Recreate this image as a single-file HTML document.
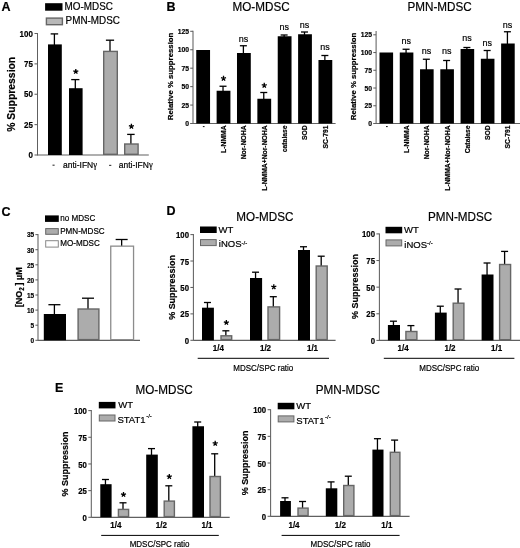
<!DOCTYPE html>
<html><head><meta charset="utf-8"><title>Figure</title>
<style>
html,body{margin:0;padding:0;background:#fff;}
body{width:520px;height:548px;overflow:hidden;}
svg{display:block;font-family:"Liberation Sans", sans-serif;filter:blur(0.3px);}
</style></head>
<body>
<svg width="520" height="548" viewBox="0 0 520 548">
<rect x="0" y="0" width="520" height="548" fill="#fff"/>
<text x="1.60" y="10.50" font-size="12.5" font-weight="bold" text-anchor="start" stroke="#000" stroke-width="0.2" fill="#000">A</text>
<rect x="45.10" y="3.20" width="17.40" height="7.50" fill="#000"/>
<text x="0.00" y="0.00" font-size="10.31" text-anchor="start" transform="translate(64.60 9.70) scale(0.96 1)" stroke="#000" stroke-width="0.2" fill="#000">MO-MDSC</text>
<rect x="46.40" y="18.10" width="16.00" height="6.60" fill="#b8b8b8" stroke="#666" stroke-width="1.4"/>
<text x="0.00" y="0.00" font-size="10.31" text-anchor="start" transform="translate(65.60 24.10) scale(0.96 1)" stroke="#000" stroke-width="0.2" fill="#000">PMN-MDSC</text>
<line x1="37.50" y1="33.00" x2="37.50" y2="155.50" stroke="#606060" stroke-width="1.05"/>
<line x1="34.50" y1="155.00" x2="37.50" y2="155.00" stroke="#606060" stroke-width="1.05"/>
<text x="0.00" y="0.00" font-size="9.3" font-weight="bold" text-anchor="end" transform="translate(32.90 158.13) scale(0.86 1)" stroke="#000" stroke-width="0.2" fill="#000">0</text>
<line x1="34.50" y1="124.62" x2="37.50" y2="124.62" stroke="#606060" stroke-width="1.05"/>
<text x="0.00" y="0.00" font-size="9.3" font-weight="bold" text-anchor="end" transform="translate(32.90 127.76) scale(0.86 1)" stroke="#000" stroke-width="0.2" fill="#000">25</text>
<line x1="34.50" y1="94.25" x2="37.50" y2="94.25" stroke="#606060" stroke-width="1.05"/>
<text x="0.00" y="0.00" font-size="9.3" font-weight="bold" text-anchor="end" transform="translate(32.90 97.38) scale(0.86 1)" stroke="#000" stroke-width="0.2" fill="#000">50</text>
<line x1="34.50" y1="63.88" x2="37.50" y2="63.88" stroke="#606060" stroke-width="1.05"/>
<text x="0.00" y="0.00" font-size="9.3" font-weight="bold" text-anchor="end" transform="translate(32.90 67.01) scale(0.86 1)" stroke="#000" stroke-width="0.2" fill="#000">75</text>
<line x1="34.50" y1="33.50" x2="37.50" y2="33.50" stroke="#606060" stroke-width="1.05"/>
<text x="0.00" y="0.00" font-size="9.3" font-weight="bold" text-anchor="end" transform="translate(32.90 36.63) scale(0.86 1)" stroke="#000" stroke-width="0.2" fill="#000">100</text>
<line x1="37.50" y1="155.00" x2="148.80" y2="155.00" stroke="#606060" stroke-width="1.2"/>
<line x1="54.40" y1="33.90" x2="54.40" y2="45.40" stroke="#000" stroke-width="1.3"/>
<line x1="50.65" y1="33.90" x2="58.15" y2="33.90" stroke="#000" stroke-width="1.3"/>
<rect x="48.00" y="44.40" width="13.80" height="110.60" fill="#000"/>
<line x1="75.30" y1="79.60" x2="75.30" y2="89.20" stroke="#000" stroke-width="1.3"/>
<line x1="71.20" y1="79.60" x2="79.40" y2="79.60" stroke="#000" stroke-width="1.3"/>
<rect x="69.00" y="88.20" width="13.60" height="66.80" fill="#000"/>
<path d="M75.80 71.60L75.80 68.95M75.80 71.60L78.32 70.78M75.80 71.60L77.36 73.74M75.80 71.60L74.24 73.74M75.80 71.60L73.28 70.78" stroke="#000" stroke-width="1.3" fill="none"/>
<line x1="110.00" y1="40.20" x2="110.00" y2="51.70" stroke="#000" stroke-width="1.3"/>
<line x1="105.90" y1="40.20" x2="114.10" y2="40.20" stroke="#000" stroke-width="1.3"/>
<rect x="103.70" y="51.40" width="13.60" height="102.90" fill="#acacac" stroke="#666" stroke-width="1.4"/>
<line x1="130.90" y1="134.40" x2="130.90" y2="144.30" stroke="#000" stroke-width="1.3"/>
<line x1="127.15" y1="134.40" x2="134.65" y2="134.40" stroke="#000" stroke-width="1.3"/>
<rect x="124.70" y="144.00" width="13.40" height="10.30" fill="#acacac" stroke="#666" stroke-width="1.4"/>
<path d="M131.40 126.40L131.40 123.75M131.40 126.40L133.92 125.58M131.40 126.40L132.96 128.54M131.40 126.40L129.84 128.54M131.40 126.40L128.88 125.58" stroke="#000" stroke-width="1.3" fill="none"/>
<rect x="52.50" y="164.60" width="2.10" height="1.20" fill="#444"/>
<text x="0.00" y="0.00" font-size="9.34" text-anchor="middle" transform="translate(80.00 168.30) scale(0.91 1)" stroke="#000" stroke-width="0.2" fill="#000">anti-IFN<tspan font-family="Liberation Serif">&#947;</tspan></text>
<rect x="109.10" y="164.80" width="2.20" height="1.20" fill="#444"/>
<text x="0.00" y="0.00" font-size="9.34" text-anchor="middle" transform="translate(135.70 168.30) scale(0.91 1)" stroke="#000" stroke-width="0.2" fill="#000">anti-IFN<tspan font-family="Liberation Serif">&#947;</tspan></text>
<text x="0.00" y="0.00" font-size="11.43" font-weight="bold" text-anchor="middle" transform="translate(14.58 94.30) rotate(-90) scale(0.91 1)" stroke="#000" stroke-width="0.2" fill="#000">% Suppression</text>
<text x="166.40" y="10.50" font-size="12.5" font-weight="bold" text-anchor="start" stroke="#000" stroke-width="0.2" fill="#000">B</text>
<text x="0.00" y="0.00" font-size="12.86" text-anchor="start" transform="translate(232.50 10.60) scale(0.91 1)" stroke="#000" stroke-width="0.2" fill="#000">MO-MDSC</text>
<line x1="193.00" y1="30.80" x2="193.00" y2="124.00" stroke="#606060" stroke-width="1.05"/>
<line x1="190.20" y1="123.50" x2="193.00" y2="123.50" stroke="#606060" stroke-width="1.05"/>
<text x="0.00" y="0.00" font-size="7.47" font-weight="bold" text-anchor="end" transform="translate(189.00 126.18) scale(0.91 1)" stroke="#000" stroke-width="0.2" fill="#000">0</text>
<line x1="190.20" y1="105.06" x2="193.00" y2="105.06" stroke="#606060" stroke-width="1.05"/>
<text x="0.00" y="0.00" font-size="7.47" font-weight="bold" text-anchor="end" transform="translate(189.00 107.74) scale(0.91 1)" stroke="#000" stroke-width="0.2" fill="#000">25</text>
<line x1="190.20" y1="86.62" x2="193.00" y2="86.62" stroke="#606060" stroke-width="1.05"/>
<text x="0.00" y="0.00" font-size="7.47" font-weight="bold" text-anchor="end" transform="translate(189.00 89.30) scale(0.91 1)" stroke="#000" stroke-width="0.2" fill="#000">50</text>
<line x1="190.20" y1="68.18" x2="193.00" y2="68.18" stroke="#606060" stroke-width="1.05"/>
<text x="0.00" y="0.00" font-size="7.47" font-weight="bold" text-anchor="end" transform="translate(189.00 70.86) scale(0.91 1)" stroke="#000" stroke-width="0.2" fill="#000">75</text>
<line x1="190.20" y1="49.74" x2="193.00" y2="49.74" stroke="#606060" stroke-width="1.05"/>
<text x="0.00" y="0.00" font-size="7.47" font-weight="bold" text-anchor="end" transform="translate(189.00 52.42) scale(0.91 1)" stroke="#000" stroke-width="0.2" fill="#000">100</text>
<line x1="190.20" y1="31.30" x2="193.00" y2="31.30" stroke="#606060" stroke-width="1.05"/>
<text x="0.00" y="0.00" font-size="7.47" font-weight="bold" text-anchor="end" transform="translate(189.00 33.98) scale(0.91 1)" stroke="#000" stroke-width="0.2" fill="#000">125</text>
<line x1="190.50" y1="123.50" x2="335.60" y2="123.50" stroke="#606060" stroke-width="1.2"/>
<rect x="196.25" y="50.00" width="13.80" height="73.50" fill="#000"/>
<line x1="223.02" y1="86.25" x2="223.02" y2="91.75" stroke="#000" stroke-width="1.3"/>
<line x1="219.52" y1="86.25" x2="226.52" y2="86.25" stroke="#000" stroke-width="1.3"/>
<rect x="216.62" y="90.75" width="13.80" height="32.75" fill="#000"/>
<path d="M223.52 78.50L223.52 75.85M223.52 78.50L226.04 77.68M223.52 78.50L225.08 80.64M223.52 78.50L221.96 80.64M223.52 78.50L221.00 77.68" stroke="#000" stroke-width="1.3" fill="none"/>
<line x1="243.39" y1="45.75" x2="243.39" y2="54.00" stroke="#000" stroke-width="1.3"/>
<line x1="239.89" y1="45.75" x2="246.89" y2="45.75" stroke="#000" stroke-width="1.3"/>
<rect x="236.99" y="53.00" width="13.80" height="70.50" fill="#000"/>
<text x="0.00" y="0.00" font-size="9.89" text-anchor="middle" transform="translate(243.49 41.80) scale(0.91 1)" stroke="#000" stroke-width="0.2" fill="#000">ns</text>
<line x1="263.76" y1="92.50" x2="263.76" y2="99.75" stroke="#000" stroke-width="1.3"/>
<line x1="260.26" y1="92.50" x2="267.26" y2="92.50" stroke="#000" stroke-width="1.3"/>
<rect x="257.36" y="98.75" width="13.80" height="24.75" fill="#000"/>
<path d="M264.26 85.50L264.26 82.85M264.26 85.50L266.78 84.68M264.26 85.50L265.82 87.64M264.26 85.50L262.70 87.64M264.26 85.50L261.74 84.68" stroke="#000" stroke-width="1.3" fill="none"/>
<line x1="284.13" y1="35.00" x2="284.13" y2="37.25" stroke="#000" stroke-width="1.3"/>
<line x1="280.63" y1="35.00" x2="287.63" y2="35.00" stroke="#000" stroke-width="1.3"/>
<rect x="277.73" y="36.25" width="13.80" height="87.25" fill="#000"/>
<text x="0.00" y="0.00" font-size="9.89" text-anchor="middle" transform="translate(284.23 29.80) scale(0.91 1)" stroke="#000" stroke-width="0.2" fill="#000">ns</text>
<line x1="304.50" y1="32.00" x2="304.50" y2="35.25" stroke="#000" stroke-width="1.3"/>
<line x1="301.00" y1="32.00" x2="308.00" y2="32.00" stroke="#000" stroke-width="1.3"/>
<rect x="298.10" y="34.25" width="13.80" height="89.25" fill="#000"/>
<text x="0.00" y="0.00" font-size="9.89" text-anchor="middle" transform="translate(304.60 27.50) scale(0.91 1)" stroke="#000" stroke-width="0.2" fill="#000">ns</text>
<line x1="324.87" y1="55.50" x2="324.87" y2="61.00" stroke="#000" stroke-width="1.3"/>
<line x1="321.37" y1="55.50" x2="328.37" y2="55.50" stroke="#000" stroke-width="1.3"/>
<rect x="318.47" y="60.00" width="13.80" height="63.50" fill="#000"/>
<text x="0.00" y="0.00" font-size="9.89" text-anchor="middle" transform="translate(324.97 50.00) scale(0.91 1)" stroke="#000" stroke-width="0.2" fill="#000">ns</text>
<text x="173.38" y="76.40" font-size="7.8" font-weight="bold" text-anchor="middle" transform="rotate(-90 173.38 76.40)" stroke="#000" stroke-width="0.2" fill="#000">Relative % suppression</text>
<rect x="202.85" y="126.00" width="1.70" height="1.10" fill="#222"/>
<text x="0.00" y="0.00" font-size="7.47" font-weight="bold" text-anchor="end" transform="translate(225.97 125.40) rotate(-90) scale(0.91 1)" stroke="#000" stroke-width="0.2" fill="#000">L-NMMA</text>
<text x="0.00" y="0.00" font-size="7.47" font-weight="bold" text-anchor="end" transform="translate(246.34 125.40) rotate(-90) scale(0.91 1)" stroke="#000" stroke-width="0.2" fill="#000">Nor-NOHA</text>
<text x="0.00" y="0.00" font-size="7.47" font-weight="bold" text-anchor="end" transform="translate(266.71 125.40) rotate(-90) scale(0.91 1)" stroke="#000" stroke-width="0.2" fill="#000">L-NMMA+Nor-NOHA</text>
<text x="0.00" y="0.00" font-size="7.47" font-weight="bold" text-anchor="end" transform="translate(287.08 125.40) rotate(-90) scale(0.91 1)" stroke="#000" stroke-width="0.2" fill="#000">catalase</text>
<text x="0.00" y="0.00" font-size="7.47" font-weight="bold" text-anchor="end" transform="translate(307.45 125.40) rotate(-90) scale(0.91 1)" stroke="#000" stroke-width="0.2" fill="#000">SOD</text>
<text x="0.00" y="0.00" font-size="7.47" font-weight="bold" text-anchor="end" transform="translate(327.82 125.40) rotate(-90) scale(0.91 1)" stroke="#000" stroke-width="0.2" fill="#000">SC-791</text>
<text x="0.00" y="0.00" font-size="12.86" text-anchor="start" transform="translate(407.50 10.60) scale(0.91 1)" stroke="#000" stroke-width="0.2" fill="#000">PMN-MDSC</text>
<line x1="376.10" y1="31.00" x2="376.10" y2="124.00" stroke="#606060" stroke-width="1.05"/>
<line x1="373.30" y1="123.50" x2="376.10" y2="123.50" stroke="#606060" stroke-width="1.05"/>
<text x="0.00" y="0.00" font-size="7.47" font-weight="bold" text-anchor="end" transform="translate(372.10 126.18) scale(0.91 1)" stroke="#000" stroke-width="0.2" fill="#000">0</text>
<line x1="373.30" y1="105.76" x2="376.10" y2="105.76" stroke="#606060" stroke-width="1.05"/>
<text x="0.00" y="0.00" font-size="7.47" font-weight="bold" text-anchor="end" transform="translate(372.10 108.44) scale(0.91 1)" stroke="#000" stroke-width="0.2" fill="#000">25</text>
<line x1="373.30" y1="88.02" x2="376.10" y2="88.02" stroke="#606060" stroke-width="1.05"/>
<text x="0.00" y="0.00" font-size="7.47" font-weight="bold" text-anchor="end" transform="translate(372.10 90.70) scale(0.91 1)" stroke="#000" stroke-width="0.2" fill="#000">50</text>
<line x1="373.30" y1="70.28" x2="376.10" y2="70.28" stroke="#606060" stroke-width="1.05"/>
<text x="0.00" y="0.00" font-size="7.47" font-weight="bold" text-anchor="end" transform="translate(372.10 72.96) scale(0.91 1)" stroke="#000" stroke-width="0.2" fill="#000">75</text>
<line x1="373.30" y1="52.54" x2="376.10" y2="52.54" stroke="#606060" stroke-width="1.05"/>
<text x="0.00" y="0.00" font-size="7.47" font-weight="bold" text-anchor="end" transform="translate(372.10 55.22) scale(0.91 1)" stroke="#000" stroke-width="0.2" fill="#000">100</text>
<line x1="373.30" y1="34.80" x2="376.10" y2="34.80" stroke="#606060" stroke-width="1.05"/>
<text x="0.00" y="0.00" font-size="7.47" font-weight="bold" text-anchor="end" transform="translate(372.10 37.48) scale(0.91 1)" stroke="#000" stroke-width="0.2" fill="#000">125</text>
<line x1="373.60" y1="123.50" x2="520.00" y2="123.50" stroke="#606060" stroke-width="1.2"/>
<rect x="379.50" y="52.50" width="13.60" height="71.00" fill="#000"/>
<line x1="406.07" y1="49.25" x2="406.07" y2="53.50" stroke="#000" stroke-width="1.3"/>
<line x1="402.57" y1="49.25" x2="409.57" y2="49.25" stroke="#000" stroke-width="1.3"/>
<rect x="399.77" y="52.50" width="13.60" height="71.00" fill="#000"/>
<text x="0.00" y="0.00" font-size="9.89" text-anchor="middle" transform="translate(406.17 44.00) scale(0.91 1)" stroke="#000" stroke-width="0.2" fill="#000">ns</text>
<line x1="426.34" y1="59.25" x2="426.34" y2="70.25" stroke="#000" stroke-width="1.3"/>
<line x1="422.84" y1="59.25" x2="429.84" y2="59.25" stroke="#000" stroke-width="1.3"/>
<rect x="420.04" y="69.25" width="13.60" height="54.25" fill="#000"/>
<text x="0.00" y="0.00" font-size="9.89" text-anchor="middle" transform="translate(426.44 54.00) scale(0.91 1)" stroke="#000" stroke-width="0.2" fill="#000">ns</text>
<line x1="446.61" y1="60.50" x2="446.61" y2="70.25" stroke="#000" stroke-width="1.3"/>
<line x1="443.11" y1="60.50" x2="450.11" y2="60.50" stroke="#000" stroke-width="1.3"/>
<rect x="440.31" y="69.25" width="13.60" height="54.25" fill="#000"/>
<text x="0.00" y="0.00" font-size="9.89" text-anchor="middle" transform="translate(446.71 54.00) scale(0.91 1)" stroke="#000" stroke-width="0.2" fill="#000">ns</text>
<line x1="466.88" y1="47.50" x2="466.88" y2="50.00" stroke="#000" stroke-width="1.3"/>
<line x1="463.38" y1="47.50" x2="470.38" y2="47.50" stroke="#000" stroke-width="1.3"/>
<rect x="460.58" y="49.00" width="13.60" height="74.50" fill="#000"/>
<text x="0.00" y="0.00" font-size="9.89" text-anchor="middle" transform="translate(466.98 40.50) scale(0.91 1)" stroke="#000" stroke-width="0.2" fill="#000">ns</text>
<line x1="487.15" y1="50.50" x2="487.15" y2="59.75" stroke="#000" stroke-width="1.3"/>
<line x1="483.65" y1="50.50" x2="490.65" y2="50.50" stroke="#000" stroke-width="1.3"/>
<rect x="480.85" y="58.75" width="13.60" height="64.75" fill="#000"/>
<text x="0.00" y="0.00" font-size="9.89" text-anchor="middle" transform="translate(487.25 45.50) scale(0.91 1)" stroke="#000" stroke-width="0.2" fill="#000">ns</text>
<line x1="507.42" y1="31.75" x2="507.42" y2="44.50" stroke="#000" stroke-width="1.3"/>
<line x1="503.92" y1="31.75" x2="510.92" y2="31.75" stroke="#000" stroke-width="1.3"/>
<rect x="501.12" y="43.50" width="13.60" height="80.00" fill="#000"/>
<text x="0.00" y="0.00" font-size="9.89" text-anchor="middle" transform="translate(507.52 27.50) scale(0.91 1)" stroke="#000" stroke-width="0.2" fill="#000">ns</text>
<text x="356.18" y="76.40" font-size="7.8" font-weight="bold" text-anchor="middle" transform="rotate(-90 356.18 76.40)" stroke="#000" stroke-width="0.2" fill="#000">Relative % suppression</text>
<rect x="386.00" y="126.00" width="1.70" height="1.10" fill="#222"/>
<text x="0.00" y="0.00" font-size="7.47" font-weight="bold" text-anchor="end" transform="translate(409.02 125.40) rotate(-90) scale(0.91 1)" stroke="#000" stroke-width="0.2" fill="#000">L-NMMA</text>
<text x="0.00" y="0.00" font-size="7.47" font-weight="bold" text-anchor="end" transform="translate(429.29 125.40) rotate(-90) scale(0.91 1)" stroke="#000" stroke-width="0.2" fill="#000">Nor-NOHA</text>
<text x="0.00" y="0.00" font-size="7.47" font-weight="bold" text-anchor="end" transform="translate(449.56 125.40) rotate(-90) scale(0.91 1)" stroke="#000" stroke-width="0.2" fill="#000">L-NMMA+Nor-NOHA</text>
<text x="0.00" y="0.00" font-size="7.47" font-weight="bold" text-anchor="end" transform="translate(469.83 125.40) rotate(-90) scale(0.91 1)" stroke="#000" stroke-width="0.2" fill="#000">Catalase</text>
<text x="0.00" y="0.00" font-size="7.47" font-weight="bold" text-anchor="end" transform="translate(490.10 125.40) rotate(-90) scale(0.91 1)" stroke="#000" stroke-width="0.2" fill="#000">SOD</text>
<text x="0.00" y="0.00" font-size="7.47" font-weight="bold" text-anchor="end" transform="translate(510.37 125.40) rotate(-90) scale(0.91 1)" stroke="#000" stroke-width="0.2" fill="#000">SC-791</text>
<text x="1.50" y="216.20" font-size="12.5" font-weight="bold" text-anchor="start" stroke="#000" stroke-width="0.2" fill="#000">C</text>
<rect x="45.00" y="215.40" width="13.80" height="6.50" fill="#000"/>
<text x="0.00" y="0.00" font-size="8.9" text-anchor="start" transform="translate(60.20 221.30) scale(0.91 1)" stroke="#000" stroke-width="0.2" fill="#000">no MDSC</text>
<rect x="45.70" y="228.60" width="12.60" height="5.70" fill="#acacac" stroke="#666" stroke-width="1.0"/>
<text x="0.00" y="0.00" font-size="8.9" text-anchor="start" transform="translate(60.20 233.90) scale(0.91 1)" stroke="#000" stroke-width="0.2" fill="#000">PMN-MDSC</text>
<rect x="45.70" y="240.70" width="12.60" height="6.40" fill="#fff" stroke="#888" stroke-width="1.0"/>
<text x="0.00" y="0.00" font-size="8.9" text-anchor="start" transform="translate(60.20 246.40) scale(0.91 1)" stroke="#000" stroke-width="0.2" fill="#000">MO-MDSC</text>
<line x1="38.00" y1="234.10" x2="38.00" y2="340.80" stroke="#606060" stroke-width="1.05"/>
<line x1="35.40" y1="340.30" x2="38.00" y2="340.30" stroke="#606060" stroke-width="1.05"/>
<text x="0.00" y="0.00" font-size="7.93" font-weight="bold" text-anchor="end" transform="translate(34.20 343.14) scale(0.82 1)" stroke="#000" stroke-width="0.2" fill="#000">0</text>
<line x1="35.40" y1="325.20" x2="38.00" y2="325.20" stroke="#606060" stroke-width="1.05"/>
<text x="0.00" y="0.00" font-size="7.93" font-weight="bold" text-anchor="end" transform="translate(34.20 328.04) scale(0.82 1)" stroke="#000" stroke-width="0.2" fill="#000">5</text>
<line x1="35.40" y1="310.10" x2="38.00" y2="310.10" stroke="#606060" stroke-width="1.05"/>
<text x="0.00" y="0.00" font-size="7.93" font-weight="bold" text-anchor="end" transform="translate(34.20 312.94) scale(0.82 1)" stroke="#000" stroke-width="0.2" fill="#000">10</text>
<line x1="35.40" y1="295.00" x2="38.00" y2="295.00" stroke="#606060" stroke-width="1.05"/>
<text x="0.00" y="0.00" font-size="7.93" font-weight="bold" text-anchor="end" transform="translate(34.20 297.84) scale(0.82 1)" stroke="#000" stroke-width="0.2" fill="#000">15</text>
<line x1="35.40" y1="279.90" x2="38.00" y2="279.90" stroke="#606060" stroke-width="1.05"/>
<text x="0.00" y="0.00" font-size="7.93" font-weight="bold" text-anchor="end" transform="translate(34.20 282.74) scale(0.82 1)" stroke="#000" stroke-width="0.2" fill="#000">20</text>
<line x1="35.40" y1="264.80" x2="38.00" y2="264.80" stroke="#606060" stroke-width="1.05"/>
<text x="0.00" y="0.00" font-size="7.93" font-weight="bold" text-anchor="end" transform="translate(34.20 267.64) scale(0.82 1)" stroke="#000" stroke-width="0.2" fill="#000">25</text>
<line x1="35.40" y1="249.70" x2="38.00" y2="249.70" stroke="#606060" stroke-width="1.05"/>
<text x="0.00" y="0.00" font-size="7.93" font-weight="bold" text-anchor="end" transform="translate(34.20 252.54) scale(0.82 1)" stroke="#000" stroke-width="0.2" fill="#000">30</text>
<line x1="35.40" y1="234.60" x2="38.00" y2="234.60" stroke="#606060" stroke-width="1.05"/>
<text x="0.00" y="0.00" font-size="7.93" font-weight="bold" text-anchor="end" transform="translate(34.20 237.44) scale(0.82 1)" stroke="#000" stroke-width="0.2" fill="#000">35</text>
<line x1="38.00" y1="340.30" x2="140.00" y2="340.30" stroke="#606060" stroke-width="1.2"/>
<line x1="54.40" y1="304.70" x2="54.40" y2="315.00" stroke="#000" stroke-width="1.3"/>
<line x1="48.40" y1="304.70" x2="60.40" y2="304.70" stroke="#000" stroke-width="1.3"/>
<rect x="43.80" y="314.00" width="22.20" height="26.30" fill="#000"/>
<line x1="88.00" y1="298.20" x2="88.00" y2="309.30" stroke="#000" stroke-width="1.3"/>
<line x1="82.00" y1="298.20" x2="94.00" y2="298.20" stroke="#000" stroke-width="1.3"/>
<rect x="78.10" y="309.00" width="20.80" height="30.60" fill="#acacac" stroke="#666" stroke-width="1.4"/>
<line x1="121.65" y1="239.50" x2="121.65" y2="246.50" stroke="#000" stroke-width="1.3"/>
<line x1="115.65" y1="239.50" x2="127.65" y2="239.50" stroke="#000" stroke-width="1.3"/>
<rect x="110.75" y="246.15" width="22.80" height="93.50" fill="#fff" stroke="#8c8c8c" stroke-width="1.3"/>
<text x="22.10" y="287.20" font-size="9.0" font-weight="bold" text-anchor="middle" transform="rotate(-90 22.10 287.20)" stroke="#000" stroke-width="0.2" fill="#000">[NO<tspan font-size="6.3" dy="1.6">2</tspan><tspan dy="-1.6">&#8201;] &#181;M</tspan></text>
<text x="166.50" y="214.70" font-size="12.5" font-weight="bold" text-anchor="start" stroke="#000" stroke-width="0.2" fill="#000">D</text>
<line x1="193.40" y1="234.10" x2="193.40" y2="340.80" stroke="#606060" stroke-width="1.05"/>
<line x1="190.40" y1="340.30" x2="193.40" y2="340.30" stroke="#606060" stroke-width="1.05"/>
<text x="0.00" y="0.00" font-size="8.57" font-weight="bold" text-anchor="end" transform="translate(189.00 343.87) scale(0.91 1)" stroke="#000" stroke-width="0.2" fill="#000">0</text>
<line x1="190.40" y1="313.88" x2="193.40" y2="313.88" stroke="#606060" stroke-width="1.05"/>
<text x="0.00" y="0.00" font-size="8.57" font-weight="bold" text-anchor="end" transform="translate(189.00 317.44) scale(0.91 1)" stroke="#000" stroke-width="0.2" fill="#000">25</text>
<line x1="190.40" y1="287.45" x2="193.40" y2="287.45" stroke="#606060" stroke-width="1.05"/>
<text x="0.00" y="0.00" font-size="8.57" font-weight="bold" text-anchor="end" transform="translate(189.00 291.02) scale(0.91 1)" stroke="#000" stroke-width="0.2" fill="#000">50</text>
<line x1="190.40" y1="261.02" x2="193.40" y2="261.02" stroke="#606060" stroke-width="1.05"/>
<text x="0.00" y="0.00" font-size="8.57" font-weight="bold" text-anchor="end" transform="translate(189.00 264.59) scale(0.91 1)" stroke="#000" stroke-width="0.2" fill="#000">75</text>
<line x1="190.40" y1="234.60" x2="193.40" y2="234.60" stroke="#606060" stroke-width="1.05"/>
<text x="0.00" y="0.00" font-size="8.57" font-weight="bold" text-anchor="end" transform="translate(189.00 238.17) scale(0.91 1)" stroke="#000" stroke-width="0.2" fill="#000">100</text>
<line x1="193.40" y1="340.30" x2="335.60" y2="340.30" stroke="#606060" stroke-width="1.2"/>
<line x1="207.45" y1="302.50" x2="207.45" y2="308.70" stroke="#000" stroke-width="1.3"/>
<line x1="203.95" y1="302.50" x2="210.95" y2="302.50" stroke="#000" stroke-width="1.3"/>
<rect x="202.00" y="307.70" width="11.90" height="32.60" fill="#000"/>
<line x1="225.85" y1="330.80" x2="225.85" y2="336.10" stroke="#000" stroke-width="1.3"/>
<line x1="222.35" y1="330.80" x2="229.35" y2="330.80" stroke="#000" stroke-width="1.3"/>
<rect x="221.00" y="335.80" width="10.70" height="3.80" fill="#acacac" stroke="#666" stroke-width="1.4"/>
<path d="M226.35 322.60L226.35 319.95M226.35 322.60L228.87 321.78M226.35 322.60L227.91 324.74M226.35 322.60L224.79 324.74M226.35 322.60L223.83 321.78" stroke="#000" stroke-width="1.3" fill="none"/>
<line x1="255.55" y1="272.20" x2="255.55" y2="279.00" stroke="#000" stroke-width="1.3"/>
<line x1="252.05" y1="272.20" x2="259.05" y2="272.20" stroke="#000" stroke-width="1.3"/>
<rect x="250.00" y="278.00" width="12.10" height="62.30" fill="#000"/>
<line x1="273.30" y1="296.70" x2="273.30" y2="307.20" stroke="#000" stroke-width="1.3"/>
<line x1="269.80" y1="296.70" x2="276.80" y2="296.70" stroke="#000" stroke-width="1.3"/>
<rect x="268.00" y="306.90" width="11.60" height="32.70" fill="#acacac" stroke="#666" stroke-width="1.4"/>
<path d="M273.80 287.00L273.80 284.35M273.80 287.00L276.32 286.18M273.80 287.00L275.36 289.14M273.80 287.00L272.24 289.14M273.80 287.00L271.28 286.18" stroke="#000" stroke-width="1.3" fill="none"/>
<line x1="303.50" y1="246.75" x2="303.50" y2="251.00" stroke="#000" stroke-width="1.3"/>
<line x1="300.00" y1="246.75" x2="307.00" y2="246.75" stroke="#000" stroke-width="1.3"/>
<rect x="298.00" y="250.00" width="12.00" height="90.30" fill="#000"/>
<line x1="321.20" y1="256.20" x2="321.20" y2="266.30" stroke="#000" stroke-width="1.3"/>
<line x1="317.70" y1="256.20" x2="324.70" y2="256.20" stroke="#000" stroke-width="1.3"/>
<rect x="316.20" y="266.00" width="11.00" height="73.60" fill="#acacac" stroke="#666" stroke-width="1.4"/>
<text x="0.00" y="0.00" font-size="8.79" font-weight="bold" text-anchor="middle" transform="translate(218.30 351.20) scale(0.91 1)" stroke="#000" stroke-width="0.2" fill="#000">1/4</text>
<text x="0.00" y="0.00" font-size="8.79" font-weight="bold" text-anchor="middle" transform="translate(265.50 351.20) scale(0.91 1)" stroke="#000" stroke-width="0.2" fill="#000">1/2</text>
<text x="0.00" y="0.00" font-size="8.79" font-weight="bold" text-anchor="middle" transform="translate(312.50 351.20) scale(0.91 1)" stroke="#000" stroke-width="0.2" fill="#000">1/1</text>
<line x1="197.70" y1="358.30" x2="329.00" y2="358.30" stroke="#000" stroke-width="1.0"/>
<text x="0.00" y="0.00" font-size="8.79" text-anchor="middle" transform="translate(263.30 371.00) scale(0.91 1)" stroke="#000" stroke-width="0.2" fill="#000">MDSC/SPC ratio</text>
<text x="0.00" y="0.00" font-size="9.89" font-weight="bold" text-anchor="middle" transform="translate(174.78 287.40) rotate(-90) scale(0.91 1)" stroke="#000" stroke-width="0.2" fill="#000">% Suppression</text>
<text x="0.00" y="0.00" font-size="12.86" text-anchor="start" transform="translate(236.30 220.80) scale(0.91 1)" stroke="#000" stroke-width="0.2" fill="#000">MO-MDSC</text>
<rect x="200.00" y="226.50" width="16.70" height="6.50" fill="#000"/>
<text x="218.60" y="232.70" font-size="9.5" text-anchor="start" stroke="#000" stroke-width="0.2" fill="#000">WT</text>
<rect x="200.50" y="239.60" width="15.70" height="6.00" fill="#acacac" stroke="#666" stroke-width="1.0"/>
<text x="218.80" y="247.20" font-size="9.5" text-anchor="start" stroke="#000" stroke-width="0.2" fill="#000">iNOS<tspan font-size="6" dy="-2.5">-/-</tspan></text>
<line x1="379.40" y1="233.40" x2="379.40" y2="340.90" stroke="#606060" stroke-width="1.05"/>
<line x1="376.40" y1="340.40" x2="379.40" y2="340.40" stroke="#606060" stroke-width="1.05"/>
<text x="0.00" y="0.00" font-size="8.57" font-weight="bold" text-anchor="end" transform="translate(375.00 343.97) scale(0.91 1)" stroke="#000" stroke-width="0.2" fill="#000">0</text>
<line x1="376.40" y1="313.77" x2="379.40" y2="313.77" stroke="#606060" stroke-width="1.05"/>
<text x="0.00" y="0.00" font-size="8.57" font-weight="bold" text-anchor="end" transform="translate(375.00 317.34) scale(0.91 1)" stroke="#000" stroke-width="0.2" fill="#000">25</text>
<line x1="376.40" y1="287.15" x2="379.40" y2="287.15" stroke="#606060" stroke-width="1.05"/>
<text x="0.00" y="0.00" font-size="8.57" font-weight="bold" text-anchor="end" transform="translate(375.00 290.72) scale(0.91 1)" stroke="#000" stroke-width="0.2" fill="#000">50</text>
<line x1="376.40" y1="260.52" x2="379.40" y2="260.52" stroke="#606060" stroke-width="1.05"/>
<text x="0.00" y="0.00" font-size="8.57" font-weight="bold" text-anchor="end" transform="translate(375.00 264.09) scale(0.91 1)" stroke="#000" stroke-width="0.2" fill="#000">75</text>
<line x1="376.40" y1="233.90" x2="379.40" y2="233.90" stroke="#606060" stroke-width="1.05"/>
<text x="0.00" y="0.00" font-size="8.57" font-weight="bold" text-anchor="end" transform="translate(375.00 237.47) scale(0.91 1)" stroke="#000" stroke-width="0.2" fill="#000">100</text>
<line x1="379.40" y1="340.40" x2="520.00" y2="340.40" stroke="#606060" stroke-width="1.2"/>
<line x1="393.45" y1="321.20" x2="393.45" y2="326.00" stroke="#000" stroke-width="1.3"/>
<line x1="389.95" y1="321.20" x2="396.95" y2="321.20" stroke="#000" stroke-width="1.3"/>
<rect x="387.90" y="325.00" width="12.10" height="15.40" fill="#000"/>
<line x1="410.90" y1="325.60" x2="410.90" y2="331.80" stroke="#000" stroke-width="1.3"/>
<line x1="407.40" y1="325.60" x2="414.40" y2="325.60" stroke="#000" stroke-width="1.3"/>
<rect x="405.90" y="331.50" width="11.00" height="8.20" fill="#acacac" stroke="#666" stroke-width="1.4"/>
<line x1="440.30" y1="306.20" x2="440.30" y2="313.60" stroke="#000" stroke-width="1.3"/>
<line x1="436.80" y1="306.20" x2="443.80" y2="306.20" stroke="#000" stroke-width="1.3"/>
<rect x="434.90" y="312.60" width="11.80" height="27.80" fill="#000"/>
<line x1="458.05" y1="289.00" x2="458.05" y2="303.50" stroke="#000" stroke-width="1.3"/>
<line x1="454.55" y1="289.00" x2="461.55" y2="289.00" stroke="#000" stroke-width="1.3"/>
<rect x="453.20" y="303.20" width="10.70" height="36.50" fill="#acacac" stroke="#666" stroke-width="1.4"/>
<line x1="487.05" y1="263.00" x2="487.05" y2="275.50" stroke="#000" stroke-width="1.3"/>
<line x1="483.55" y1="263.00" x2="490.55" y2="263.00" stroke="#000" stroke-width="1.3"/>
<rect x="481.60" y="274.50" width="11.90" height="65.90" fill="#000"/>
<line x1="504.60" y1="251.40" x2="504.60" y2="264.80" stroke="#000" stroke-width="1.3"/>
<line x1="501.10" y1="251.40" x2="508.10" y2="251.40" stroke="#000" stroke-width="1.3"/>
<rect x="499.60" y="264.50" width="11.00" height="75.20" fill="#acacac" stroke="#666" stroke-width="1.4"/>
<text x="0.00" y="0.00" font-size="8.79" font-weight="bold" text-anchor="middle" transform="translate(403.10 351.20) scale(0.91 1)" stroke="#000" stroke-width="0.2" fill="#000">1/4</text>
<text x="0.00" y="0.00" font-size="8.79" font-weight="bold" text-anchor="middle" transform="translate(450.00 351.20) scale(0.91 1)" stroke="#000" stroke-width="0.2" fill="#000">1/2</text>
<text x="0.00" y="0.00" font-size="8.79" font-weight="bold" text-anchor="middle" transform="translate(496.60 351.20) scale(0.91 1)" stroke="#000" stroke-width="0.2" fill="#000">1/1</text>
<line x1="383.80" y1="358.30" x2="514.40" y2="358.30" stroke="#000" stroke-width="1.0"/>
<text x="0.00" y="0.00" font-size="8.79" text-anchor="middle" transform="translate(449.20 371.00) scale(0.91 1)" stroke="#000" stroke-width="0.2" fill="#000">MDSC/SPC ratio</text>
<text x="0.00" y="0.00" font-size="9.89" font-weight="bold" text-anchor="middle" transform="translate(357.58 286.50) rotate(-90) scale(0.91 1)" stroke="#000" stroke-width="0.2" fill="#000">% Suppression</text>
<text x="0.00" y="0.00" font-size="12.86" text-anchor="start" transform="translate(428.00 220.80) scale(0.91 1)" stroke="#000" stroke-width="0.2" fill="#000">PMN-MDSC</text>
<rect x="385.50" y="226.80" width="16.70" height="6.50" fill="#000"/>
<text x="404.10" y="233.00" font-size="9.5" text-anchor="start" stroke="#000" stroke-width="0.2" fill="#000">WT</text>
<rect x="386.00" y="239.90" width="15.70" height="6.00" fill="#acacac" stroke="#666" stroke-width="1.0"/>
<text x="404.30" y="247.50" font-size="9.5" text-anchor="start" stroke="#000" stroke-width="0.2" fill="#000">iNOS<tspan font-size="6" dy="-2.5">-/-</tspan></text>
<text x="55.00" y="392.40" font-size="12.5" font-weight="bold" text-anchor="start" stroke="#000" stroke-width="0.2" fill="#000">E</text>
<line x1="91.30" y1="410.10" x2="91.30" y2="517.80" stroke="#606060" stroke-width="1.05"/>
<line x1="88.30" y1="517.30" x2="91.30" y2="517.30" stroke="#606060" stroke-width="1.05"/>
<text x="0.00" y="0.00" font-size="8.57" font-weight="bold" text-anchor="end" transform="translate(86.90 520.87) scale(0.91 1)" stroke="#000" stroke-width="0.2" fill="#000">0</text>
<line x1="88.30" y1="490.62" x2="91.30" y2="490.62" stroke="#606060" stroke-width="1.05"/>
<text x="0.00" y="0.00" font-size="8.57" font-weight="bold" text-anchor="end" transform="translate(86.90 494.19) scale(0.91 1)" stroke="#000" stroke-width="0.2" fill="#000">25</text>
<line x1="88.30" y1="463.95" x2="91.30" y2="463.95" stroke="#606060" stroke-width="1.05"/>
<text x="0.00" y="0.00" font-size="8.57" font-weight="bold" text-anchor="end" transform="translate(86.90 467.52) scale(0.91 1)" stroke="#000" stroke-width="0.2" fill="#000">50</text>
<line x1="88.30" y1="437.27" x2="91.30" y2="437.27" stroke="#606060" stroke-width="1.05"/>
<text x="0.00" y="0.00" font-size="8.57" font-weight="bold" text-anchor="end" transform="translate(86.90 440.84) scale(0.91 1)" stroke="#000" stroke-width="0.2" fill="#000">75</text>
<line x1="88.30" y1="410.60" x2="91.30" y2="410.60" stroke="#606060" stroke-width="1.05"/>
<text x="0.00" y="0.00" font-size="8.57" font-weight="bold" text-anchor="end" transform="translate(86.90 414.17) scale(0.91 1)" stroke="#000" stroke-width="0.2" fill="#000">100</text>
<line x1="91.30" y1="517.30" x2="229.70" y2="517.30" stroke="#606060" stroke-width="1.2"/>
<line x1="105.45" y1="479.50" x2="105.45" y2="485.20" stroke="#000" stroke-width="1.3"/>
<line x1="101.95" y1="479.50" x2="108.95" y2="479.50" stroke="#000" stroke-width="1.3"/>
<rect x="100.30" y="484.20" width="11.30" height="33.10" fill="#000"/>
<line x1="123.00" y1="502.80" x2="123.00" y2="509.70" stroke="#000" stroke-width="1.3"/>
<line x1="119.50" y1="502.80" x2="126.50" y2="502.80" stroke="#000" stroke-width="1.3"/>
<rect x="118.40" y="509.40" width="10.20" height="7.20" fill="#acacac" stroke="#666" stroke-width="1.4"/>
<path d="M123.50 494.60L123.50 491.95M123.50 494.60L126.02 493.78M123.50 494.60L125.06 496.74M123.50 494.60L121.94 496.74M123.50 494.60L120.98 493.78" stroke="#000" stroke-width="1.3" fill="none"/>
<line x1="151.50" y1="448.60" x2="151.50" y2="455.60" stroke="#000" stroke-width="1.3"/>
<line x1="148.00" y1="448.60" x2="155.00" y2="448.60" stroke="#000" stroke-width="1.3"/>
<rect x="146.20" y="454.60" width="11.60" height="62.70" fill="#000"/>
<line x1="168.80" y1="485.80" x2="168.80" y2="501.40" stroke="#000" stroke-width="1.3"/>
<line x1="165.30" y1="485.80" x2="172.30" y2="485.80" stroke="#000" stroke-width="1.3"/>
<rect x="164.20" y="501.10" width="10.20" height="15.50" fill="#acacac" stroke="#666" stroke-width="1.4"/>
<path d="M169.30 476.70L169.30 474.05M169.30 476.70L171.82 475.88M169.30 476.70L170.86 478.84M169.30 476.70L167.74 478.84M169.30 476.70L166.78 475.88" stroke="#000" stroke-width="1.3" fill="none"/>
<line x1="197.70" y1="422.00" x2="197.70" y2="427.25" stroke="#000" stroke-width="1.3"/>
<line x1="194.20" y1="422.00" x2="201.20" y2="422.00" stroke="#000" stroke-width="1.3"/>
<rect x="192.40" y="426.25" width="11.60" height="91.05" fill="#000"/>
<line x1="214.70" y1="453.80" x2="214.70" y2="476.80" stroke="#000" stroke-width="1.3"/>
<line x1="211.20" y1="453.80" x2="218.20" y2="453.80" stroke="#000" stroke-width="1.3"/>
<rect x="210.00" y="476.50" width="10.40" height="40.10" fill="#acacac" stroke="#666" stroke-width="1.4"/>
<path d="M215.20 443.50L215.20 440.85M215.20 443.50L217.72 442.68M215.20 443.50L216.76 445.64M215.20 443.50L213.64 445.64M215.20 443.50L212.68 442.68" stroke="#000" stroke-width="1.3" fill="none"/>
<text x="0.00" y="0.00" font-size="8.79" font-weight="bold" text-anchor="middle" transform="translate(115.80 527.80) scale(0.91 1)" stroke="#000" stroke-width="0.2" fill="#000">1/4</text>
<text x="0.00" y="0.00" font-size="8.79" font-weight="bold" text-anchor="middle" transform="translate(161.40 527.80) scale(0.91 1)" stroke="#000" stroke-width="0.2" fill="#000">1/2</text>
<text x="0.00" y="0.00" font-size="8.79" font-weight="bold" text-anchor="middle" transform="translate(207.00 527.80) scale(0.91 1)" stroke="#000" stroke-width="0.2" fill="#000">1/1</text>
<line x1="101.20" y1="535.40" x2="218.80" y2="535.40" stroke="#000" stroke-width="1.0"/>
<text x="0.00" y="0.00" font-size="8.79" text-anchor="middle" transform="translate(159.60 547.20) scale(0.91 1)" stroke="#000" stroke-width="0.2" fill="#000">MDSC/SPC ratio</text>
<text x="0.00" y="0.00" font-size="9.89" font-weight="bold" text-anchor="middle" transform="translate(68.48 464.00) rotate(-90) scale(0.91 1)" stroke="#000" stroke-width="0.2" fill="#000">% Suppression</text>
<text x="0.00" y="0.00" font-size="12.86" text-anchor="start" transform="translate(135.50 394.30) scale(0.91 1)" stroke="#000" stroke-width="0.2" fill="#000">MO-MDSC</text>
<rect x="98.80" y="401.90" width="16.70" height="6.50" fill="#000"/>
<text x="118.20" y="408.10" font-size="9.5" text-anchor="start" stroke="#000" stroke-width="0.2" fill="#000">WT</text>
<rect x="99.30" y="415.00" width="15.70" height="6.00" fill="#acacac" stroke="#666" stroke-width="1.0"/>
<text x="117.40" y="422.60" font-size="9.5" text-anchor="start" stroke="#000" stroke-width="0.2" fill="#000">STAT1<tspan font-size="6" dy="-4.3" dx="0.6">-/-</tspan></text>
<line x1="270.60" y1="409.20" x2="270.60" y2="516.80" stroke="#606060" stroke-width="1.05"/>
<line x1="267.60" y1="516.30" x2="270.60" y2="516.30" stroke="#606060" stroke-width="1.05"/>
<text x="0.00" y="0.00" font-size="8.57" font-weight="bold" text-anchor="end" transform="translate(266.20 519.87) scale(0.91 1)" stroke="#000" stroke-width="0.2" fill="#000">0</text>
<line x1="267.60" y1="489.65" x2="270.60" y2="489.65" stroke="#606060" stroke-width="1.05"/>
<text x="0.00" y="0.00" font-size="8.57" font-weight="bold" text-anchor="end" transform="translate(266.20 493.22) scale(0.91 1)" stroke="#000" stroke-width="0.2" fill="#000">25</text>
<line x1="267.60" y1="463.00" x2="270.60" y2="463.00" stroke="#606060" stroke-width="1.05"/>
<text x="0.00" y="0.00" font-size="8.57" font-weight="bold" text-anchor="end" transform="translate(266.20 466.57) scale(0.91 1)" stroke="#000" stroke-width="0.2" fill="#000">50</text>
<line x1="267.60" y1="436.35" x2="270.60" y2="436.35" stroke="#606060" stroke-width="1.05"/>
<text x="0.00" y="0.00" font-size="8.57" font-weight="bold" text-anchor="end" transform="translate(266.20 439.92) scale(0.91 1)" stroke="#000" stroke-width="0.2" fill="#000">75</text>
<line x1="267.60" y1="409.70" x2="270.60" y2="409.70" stroke="#606060" stroke-width="1.05"/>
<text x="0.00" y="0.00" font-size="8.57" font-weight="bold" text-anchor="end" transform="translate(266.20 413.27) scale(0.91 1)" stroke="#000" stroke-width="0.2" fill="#000">100</text>
<line x1="270.60" y1="516.30" x2="409.60" y2="516.30" stroke="#606060" stroke-width="1.2"/>
<line x1="285.00" y1="497.80" x2="285.00" y2="502.00" stroke="#000" stroke-width="1.3"/>
<line x1="281.50" y1="497.80" x2="288.50" y2="497.80" stroke="#000" stroke-width="1.3"/>
<rect x="280.10" y="501.00" width="10.80" height="15.30" fill="#000"/>
<line x1="302.55" y1="501.50" x2="302.55" y2="508.40" stroke="#000" stroke-width="1.3"/>
<line x1="299.05" y1="501.50" x2="306.05" y2="501.50" stroke="#000" stroke-width="1.3"/>
<rect x="298.00" y="508.10" width="10.10" height="7.50" fill="#acacac" stroke="#666" stroke-width="1.4"/>
<line x1="331.05" y1="481.90" x2="331.05" y2="489.30" stroke="#000" stroke-width="1.3"/>
<line x1="327.55" y1="481.90" x2="334.55" y2="481.90" stroke="#000" stroke-width="1.3"/>
<rect x="325.80" y="488.30" width="11.50" height="28.00" fill="#000"/>
<line x1="348.30" y1="476.20" x2="348.30" y2="485.80" stroke="#000" stroke-width="1.3"/>
<line x1="344.80" y1="476.20" x2="351.80" y2="476.20" stroke="#000" stroke-width="1.3"/>
<rect x="343.70" y="485.50" width="10.20" height="30.10" fill="#acacac" stroke="#666" stroke-width="1.4"/>
<line x1="377.45" y1="438.70" x2="377.45" y2="450.60" stroke="#000" stroke-width="1.3"/>
<line x1="373.95" y1="438.70" x2="380.95" y2="438.70" stroke="#000" stroke-width="1.3"/>
<rect x="372.40" y="449.60" width="11.10" height="66.70" fill="#000"/>
<line x1="394.60" y1="440.10" x2="394.60" y2="452.60" stroke="#000" stroke-width="1.3"/>
<line x1="391.10" y1="440.10" x2="398.10" y2="440.10" stroke="#000" stroke-width="1.3"/>
<rect x="390.30" y="452.30" width="9.60" height="63.30" fill="#acacac" stroke="#666" stroke-width="1.4"/>
<text x="0.00" y="0.00" font-size="8.79" font-weight="bold" text-anchor="middle" transform="translate(294.00 527.80) scale(0.91 1)" stroke="#000" stroke-width="0.2" fill="#000">1/4</text>
<text x="0.00" y="0.00" font-size="8.79" font-weight="bold" text-anchor="middle" transform="translate(340.40 527.80) scale(0.91 1)" stroke="#000" stroke-width="0.2" fill="#000">1/2</text>
<text x="0.00" y="0.00" font-size="8.79" font-weight="bold" text-anchor="middle" transform="translate(386.90 527.80) scale(0.91 1)" stroke="#000" stroke-width="0.2" fill="#000">1/1</text>
<line x1="281.60" y1="535.40" x2="399.60" y2="535.40" stroke="#000" stroke-width="1.0"/>
<text x="0.00" y="0.00" font-size="8.79" text-anchor="middle" transform="translate(340.50 547.20) scale(0.91 1)" stroke="#000" stroke-width="0.2" fill="#000">MDSC/SPC ratio</text>
<text x="0.00" y="0.00" font-size="9.89" font-weight="bold" text-anchor="middle" transform="translate(247.88 462.90) rotate(-90) scale(0.91 1)" stroke="#000" stroke-width="0.2" fill="#000">% Suppression</text>
<text x="0.00" y="0.00" font-size="12.86" text-anchor="start" transform="translate(315.70 394.30) scale(0.91 1)" stroke="#000" stroke-width="0.2" fill="#000">PMN-MDSC</text>
<rect x="277.70" y="402.80" width="16.70" height="6.50" fill="#000"/>
<text x="296.30" y="409.00" font-size="9.5" text-anchor="start" stroke="#000" stroke-width="0.2" fill="#000">WT</text>
<rect x="278.20" y="415.90" width="15.70" height="6.00" fill="#acacac" stroke="#666" stroke-width="1.0"/>
<text x="296.30" y="423.50" font-size="9.5" text-anchor="start" stroke="#000" stroke-width="0.2" fill="#000">STAT1<tspan font-size="6" dy="-4.3" dx="0.6">-/-</tspan></text>
</svg>
</body></html>
